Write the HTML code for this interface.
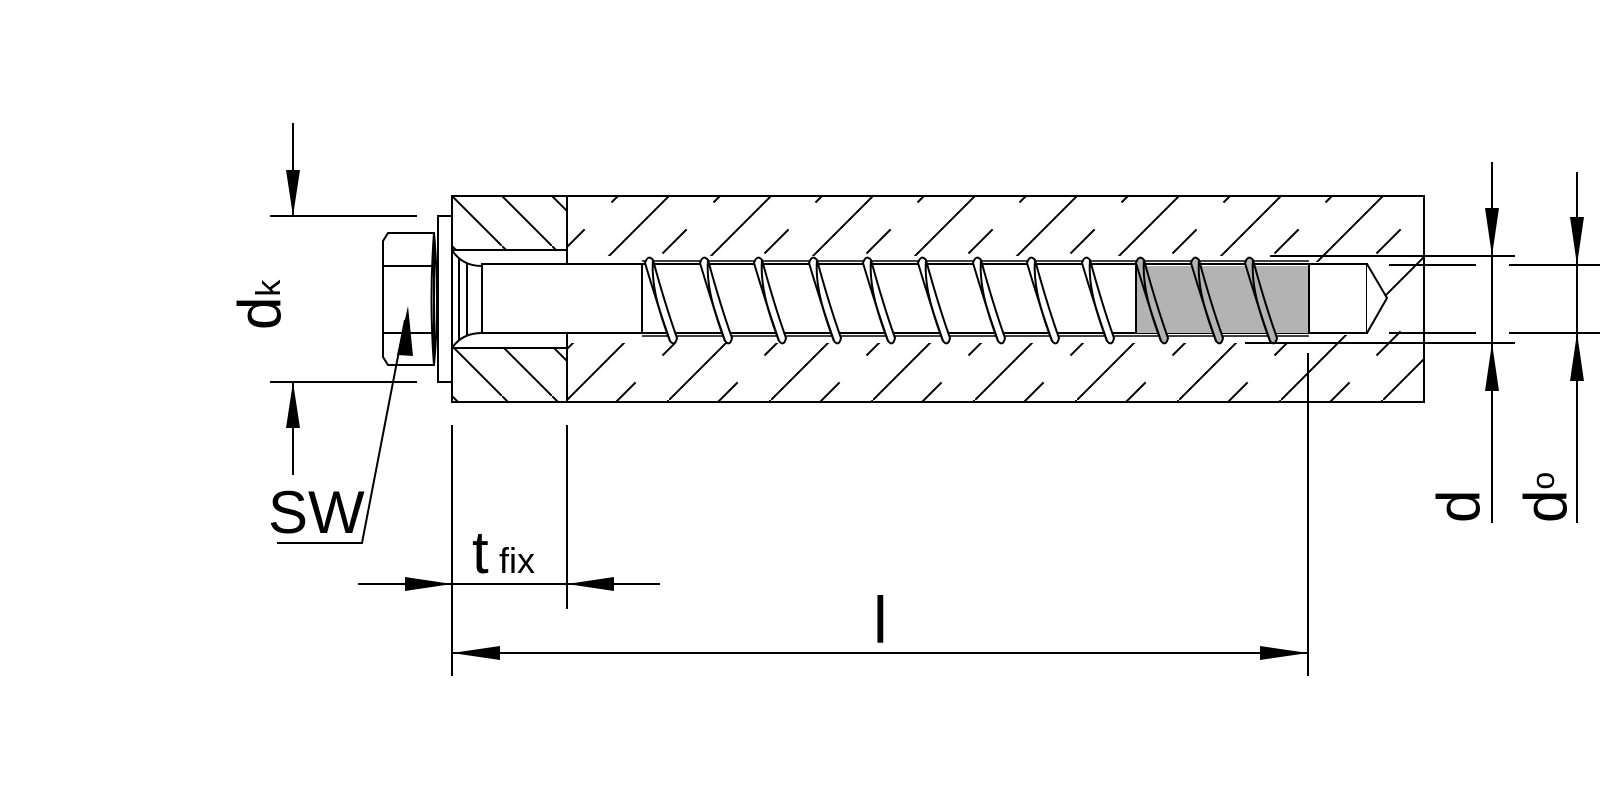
<!DOCTYPE html>
<html><head><meta charset="utf-8"><style>
html,body{margin:0;padding:0;background:#fff}
svg{display:block}
text{font-family:"Liberation Sans",sans-serif;fill:#000}
</style></head><body>
<svg width="1600" height="800" viewBox="0 0 1600 800" xmlns="http://www.w3.org/2000/svg">
<defs>
<pattern id="ph" patternUnits="userSpaceOnUse" width="50" height="50" x="452" y="196">
<line x1="-5" y1="-5" x2="55" y2="55" stroke="#000" stroke-width="2"/>
</pattern>
<pattern id="ch" patternUnits="userSpaceOnUse" width="102" height="102" x="567" y="196">
<line x1="-5" y1="107" x2="107" y2="-5" stroke="#000" stroke-width="2"/>
<line x1="-5" y1="56" x2="56" y2="-5" stroke="#000" stroke-width="2" stroke-dasharray="32,38"/>
<line x1="46" y1="107" x2="107" y2="46" stroke="#000" stroke-width="2" stroke-dasharray="32,38"/>
</pattern>
<g id="th">
<path d="M0,263 Q3,254 8,260 C14,282 22,310 32,338 Q30,347 25,341 C16,315 8,290 0,263Z"/>
<path d="M8,260 C6,285 14,312 25,341" fill="none"/>
</g>
</defs>
<g stroke="#000" stroke-width="2" fill="none">
<path d="M452,196H567V250H452Z M452,348H567V402H452Z" fill="url(#ph)" stroke="none"/>
<path d="M567,196H1424V402H567Z M567,256H1310V262H1367L1387,298L1367,335H1310V343H567Z" fill="url(#ch)" fill-rule="evenodd" stroke="none"/>
<rect x="452" y="196" width="972" height="206"/>
<line x1="567" y1="196" x2="567" y2="402"/>
<line x1="452" y1="250" x2="567" y2="250"/>
<line x1="452" y1="348" x2="567" y2="348"/>
<rect x="482" y="264" width="885" height="69" fill="#fff"/>
<rect x="1136" y="266" width="173" height="67" fill="#b3b3b3" stroke="none"/>
<line x1="642" y1="261" x2="1309" y2="261" stroke-width="1.5"/>
<line x1="642" y1="336" x2="1309" y2="336" stroke-width="1.5"/>
<line x1="1136" y1="264" x2="1136" y2="333"/>
<line x1="1309" y1="264" x2="1309" y2="333"/>
<path d="M1367,264L1387,298L1367,333" fill="#fff"/>
<line x1="642" y1="264" x2="642" y2="333"/>
<path d="M452,250 Q462,266 482,266 M452,348 Q462,333 482,333"/>
<line x1="459" y1="258" x2="459" y2="341"/>
<line x1="467" y1="264" x2="467" y2="335"/>
<g fill="#fff" stroke-width="2">
<use href="#th" x="645"/><use href="#th" x="700"/><use href="#th" x="754"/><use href="#th" x="809"/>
<use href="#th" x="863"/><use href="#th" x="918"/><use href="#th" x="973"/><use href="#th" x="1027"/>
<use href="#th" x="1082"/>
</g>
<g fill="#b3b3b3" stroke-width="2">
<use href="#th" x="1136"/><use href="#th" x="1191"/><use href="#th" x="1245"/>
</g>
<rect x="438" y="216" width="14" height="166" fill="#fff"/>
<path d="M434,233 Q440,300 434,365" />
<path d="M388,233H434V365H388L383,357V241Z" fill="#fff"/>
<line x1="383" y1="266" x2="434" y2="266"/>
<line x1="383" y1="333" x2="434" y2="333"/>
<path d="M434,233 Q429,300 434,365"/>
<line x1="270" y1="216" x2="417" y2="216"/>
<line x1="270" y1="382" x2="417" y2="382"/>
<line x1="293" y1="123" x2="293" y2="216"/>
<line x1="293" y1="382" x2="293" y2="475"/>
<path d="M277,543H362L405,320"/>
<line x1="452" y1="425" x2="452" y2="676"/>
<line x1="567" y1="425" x2="567" y2="609"/>
<line x1="358" y1="584" x2="660" y2="584"/>
<line x1="452" y1="653" x2="1308" y2="653"/>
<line x1="1308" y1="353" x2="1308" y2="676"/>
<line x1="1270" y1="256" x2="1515" y2="256"/>
<line x1="1245" y1="343" x2="1515" y2="343"/>
<line x1="1389" y1="265" x2="1476" y2="265"/>
<line x1="1389" y1="333" x2="1476" y2="333"/>
<line x1="1509" y1="265" x2="1600" y2="265"/>
<line x1="1509" y1="333" x2="1600" y2="333"/>
<line x1="1492" y1="162" x2="1492" y2="523"/>
<line x1="1577" y1="172" x2="1577" y2="523"/>
</g>
<g fill="#000">
<polygon points="293,216 286,170 300,170"/>
<polygon points="293,382 286,428 300,428"/>
<polygon points="408,306 397,355 413,356"/>
<polygon points="452,584 405,577 405,591"/>
<polygon points="567,584 614,577 614,591"/>
<polygon points="452,653 500,646 500,660"/>
<polygon points="1308,653 1260,646 1260,660"/>
<polygon points="1492,256 1485,208 1499,208"/>
<polygon points="1492,343 1485,391 1499,391"/>
<polygon points="1577,265 1570,217 1584,217"/>
<polygon points="1577,333 1570,381 1584,381"/>
</g>
<text transform="translate(280,330) rotate(-90)" font-size="60">d<tspan font-size="34">k</tspan></text>
<text x="268" y="533" font-size="60">SW</text>
<text x="472" y="573" font-size="60">t</text>
<text x="499" y="573" font-size="36">fix</text>
<text x="873" y="643" font-size="66">l</text>
<text transform="translate(1479,523) rotate(-90)" font-size="60">d</text>
<text transform="translate(1566,523) rotate(-90)" font-size="60">d<tspan font-size="32" dy="-12">o</tspan></text>
</svg>
</body></html>
